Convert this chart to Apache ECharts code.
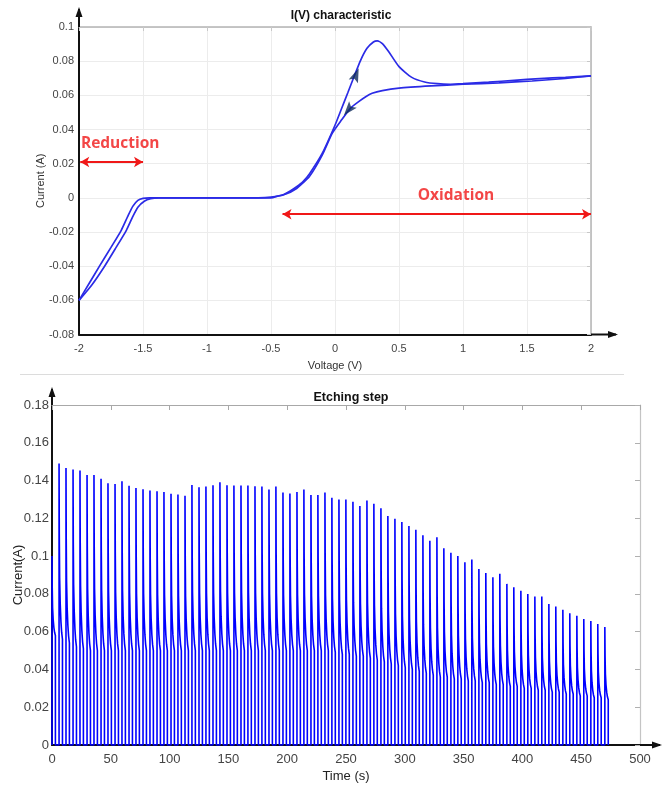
<!DOCTYPE html>
<html>
<head>
<meta charset="utf-8">
<script src="https://cdn.jsdelivr.net/npm/echarts@6/dist/echarts.min.js"></script>
<style>html,body{margin:0;padding:0;background:#fff}#c{width:664px;height:787px}</style>
</head>
<body>
<div id="c"></div>
<script>
// ---------- I(V) characteristic (cyclic voltammogram) ----------
const ivTicksX = [-2, -1.5, -1, -0.5, 0, 0.5, 1, 1.5, 2];
const ivTicksY = [-0.08, -0.06, -0.04, -0.02, 0, 0.02, 0.04, 0.06, 0.08, 0.1];
// reverse scan (2 V -> -2 V)
const revV = [2, 1.8, 1.54, 1.28, 1.0, 0.75, 0.5, 0.37, 0.29, 0.24, 0.185, 0.12, 0.05, -0.02, -0.1, -0.2, -0.3, -0.4, -0.5, -0.6, -1.0, -1.4, -1.45, -1.5, -1.54, -1.58, -1.62, -1.67, -1.75, -1.84, -1.92, -2];
const revI = [0.0714, 0.0699, 0.0684, 0.0673, 0.0665, 0.0655, 0.0642, 0.0628, 0.0612, 0.0592, 0.0563, 0.0524, 0.0455, 0.038, 0.025, 0.0125, 0.0055, 0.0018, 0.0004, 0, 0, 0, 0, -0.0003, -0.0015, -0.005, -0.011, -0.019, -0.029, -0.04, -0.05, -0.06];
// forward scan (-2 V -> 2 V)
const fwdV = [-2, -1.9, -1.8, -1.71, -1.63, -1.58, -1.54, -1.49, -1.44, -1.38, -1.0, -0.5, -0.45, -0.4, -0.35, -0.3, -0.25, -0.2, -0.1, 0, 0.05, 0.1, 0.15, 0.2, 0.25, 0.3, 0.33, 0.37, 0.42, 0.5, 0.6, 0.7, 0.8, 0.9, 1.0, 1.2, 1.4, 1.6, 1.8, 2];
const fwdI = [-0.06, -0.051, -0.04, -0.029, -0.019, -0.011, -0.0055, -0.002, -0.0005, 0, 0, 0, 0.001, 0.002, 0.004, 0.0065, 0.0095, 0.014, 0.026, 0.0425, 0.052, 0.0615, 0.0712, 0.0805, 0.0875, 0.0912, 0.0919, 0.0903, 0.0855, 0.0768, 0.0705, 0.0678, 0.0668, 0.0665, 0.0668, 0.0677, 0.0688, 0.0698, 0.0706, 0.0714];
// scan direction markers (forward: up-right, reverse: down-left)
const dirMarkV = [0.146, 0.12];
const dirMarkI = [0.0714, 0.0524];
// annotations
const annText = ['Reduction', 'Oxidation'];
const annV = [-1.985, 0.945];
const annI = [0.032, 0.0016];
const annAlign = ['left', 'center'];
const redArrowFromV = [-1.99, -0.41];
const redArrowToV = [-1.5, 2.0];
const redArrowI = [0.021, -0.0096];

// ---------- Etching step (pulsed current) ----------
const etchTicksX = [0, 50, 100, 150, 200, 250, 300, 350, 400, 450, 500];
const etchTicksY = [0, 0.02, 0.04, 0.06, 0.08, 0.1, 0.12, 0.14, 0.16, 0.18];
const pulseOnset = [0, 6.0, 11.9, 17.9, 23.8, 29.8, 35.7, 41.7, 47.6, 53.6, 59.5, 65.5, 71.4, 77.4, 83.3, 89.3, 95.2, 101.2, 107.1, 113.1, 119.0, 125.0, 130.9, 136.9, 142.8, 148.8, 154.7, 160.7, 166.6, 172.6, 178.5, 184.5, 190.4, 196.4, 202.3, 208.3, 214.2, 220.2, 226.1, 232.1, 238.0, 244.0, 249.9, 255.9, 261.8, 267.8, 273.7, 279.7, 285.6, 291.6, 297.5, 303.5, 309.4, 315.4, 321.3, 327.3, 333.2, 339.2, 345.1, 351.1, 357.0, 363.0, 368.9, 374.9, 380.8, 386.8, 392.7, 398.7, 404.6, 410.6, 416.5, 422.5, 428.4, 434.4, 440.3, 446.3, 452.2, 458.2, 464.1, 470.1];
const pulsePeak = [0.100, 0.149, 0.1467, 0.1458, 0.1453, 0.143, 0.143, 0.141, 0.1386, 0.1382, 0.1396, 0.1372, 0.136, 0.1354, 0.1347, 0.1344, 0.1339, 0.133, 0.1326, 0.1319, 0.1377, 0.1365, 0.1368, 0.1375, 0.1391, 0.1375, 0.1374, 0.1374, 0.1374, 0.137, 0.1368, 0.1353, 0.1368, 0.1337, 0.1332, 0.134, 0.1353, 0.1323, 0.1323, 0.1337, 0.1309, 0.13, 0.13, 0.1288, 0.1265, 0.1295, 0.1277, 0.1253, 0.1212, 0.1198, 0.1181, 0.116, 0.1139, 0.1111, 0.1081, 0.11, 0.1042, 0.1018, 0.1, 0.0967, 0.0982, 0.0932, 0.0911, 0.0888, 0.0907, 0.0853, 0.0835, 0.0816, 0.08, 0.0786, 0.0786, 0.0746, 0.0733, 0.0716, 0.0698, 0.0684, 0.0667, 0.0656, 0.064, 0.0625];
const pulseEnd = [0.058, 0.056, 0.054, 0.052, 0.051, 0.05, 0.05, 0.05, 0.05, 0.05, 0.05, 0.05, 0.05, 0.05, 0.05, 0.05, 0.05, 0.05, 0.05, 0.05, 0.05, 0.05, 0.05, 0.05, 0.05, 0.05, 0.05, 0.05, 0.05, 0.05, 0.05, 0.05, 0.05, 0.05, 0.05, 0.05, 0.05, 0.05, 0.05, 0.05, 0.049, 0.048, 0.048, 0.047, 0.047, 0.046, 0.045, 0.044, 0.043, 0.042, 0.041, 0.04, 0.039, 0.038, 0.037, 0.036, 0.036, 0.035, 0.035, 0.034, 0.034, 0.033, 0.033, 0.032, 0.032, 0.031, 0.031, 0.03, 0.03, 0.029, 0.029, 0.028, 0.028, 0.027, 0.027, 0.026, 0.026, 0.025, 0.025, 0.024];
// shape of one pulse's decay, read off a typical pulse: time after onset (s) and fraction of (peak - end)
const decayDt = [0, 0.2, 0.5, 1.0, 1.6, 2.2, 2.9];
const decayFrac = [1, 0.6, 0.35, 0.2, 0.1, 0.04, 0];

// ---------- build series data ----------
const revData = revV.map((v, i) => [v, revI[i]]);
const fwdData = fwdV.map((v, i) => [v, fwdI[i]]);
const etchData = [];
pulseOnset.forEach((t0, k) => {
  const pk = pulsePeak[k], en = pulseEnd[k];
  etchData.push([t0, 0]);
  decayDt.forEach((dt, i) => etchData.push([t0 + dt, en + decayFrac[i] * (pk - en)]));
  etchData.push([t0 + decayDt[decayDt.length - 1], 0]);
});

const FONT = '"Liberation Sans", Arial, sans-serif';
const CVBLUE = '#2b2be6';
const RED = '#f01818';
// dart shapes (style): pointing up-right and pointing down-left
const DART_UR = {symbol: 'path://M2.68,-6.47 L1.94,8.38 L-1.53,3.70 L-7.3,4.55 Z', symbolSize: [10, 15]};
const DART_DL = {symbol: 'path://M-4.5,5.36 L8.33,-2.15 L2.57,-3.06 L0.67,-8.58 Z', symbolSize: [12.8, 13.9]};
const dartStyles = [DART_UR, DART_DL];

const chart = echarts.init(document.getElementById('c'), null, {renderer: 'canvas'});

const fmtNum = v => String(Math.round(v * 1000) / 1000);

const option = {
  animation: false,
  backgroundColor: '#ffffff',
  title: [
    {text: 'I(V) characteristic', left: 336, top: 5, textAlign: 'center',
     textStyle: {fontFamily: FONT, fontSize: 12, fontWeight: 'bold', color: '#111'}},
    {text: 'Etching step', left: 346, top: 386, textAlign: 'center',
     textStyle: {fontFamily: FONT, fontSize: 12.5, fontWeight: 'bold', color: '#111'}}
  ],
  grid: [
    {left: 79, top: 27, width: 512, height: 307.5, containLabel: false, outerBoundsMode: 'none'},
    {left: 52, top: 405, width: 588, height: 340, containLabel: false, outerBoundsMode: 'none'}
  ],
  xAxis: [
    {gridIndex: 0, type: 'value', min: -2, max: 2, interval: 0.5, position: 'bottom',
     name: 'Voltage (V)', nameLocation: 'middle', nameGap: 26, nameMoveOverlap: false,
     nameTextStyle: {fontFamily: FONT, fontSize: 11, color: '#333'},
     axisLine: {onZero: false, lineStyle: {color: '#111', width: 2}},
     axisTick: {show: false},
     axisLabel: {fontFamily: FONT, fontSize: 11, color: '#444', margin: 9, formatter: fmtNum},
     splitLine: {show: true, lineStyle: {color: '#ececec', width: 1}}},
    {gridIndex: 0, type: 'value', min: -2, max: 2, interval: 0.5, position: 'top',
     axisLine: {onZero: false, lineStyle: {color: '#b4b4b4', width: 1.5}},
     axisTick: {show: true, inside: true, length: 4, lineStyle: {color: '#c8c8c8'}},
     axisLabel: {show: false}, splitLine: {show: false}},
    {gridIndex: 1, type: 'value', min: 0, max: 500, interval: 50, position: 'bottom',
     name: 'Time (s)', nameLocation: 'middle', nameGap: 25, nameMoveOverlap: false,
     nameTextStyle: {fontFamily: FONT, fontSize: 13, color: '#222'},
     axisLine: {onZero: false, lineStyle: {color: '#111', width: 2}},
     axisTick: {show: false},
     axisLabel: {fontFamily: FONT, fontSize: 13, color: '#444', margin: 8},
     splitLine: {show: false}},
    {gridIndex: 1, type: 'value', min: 0, max: 500, interval: 50, position: 'top',
     axisLine: {onZero: false, lineStyle: {color: '#a8a8a8', width: 1.2}},
     axisTick: {show: true, inside: true, length: 5, lineStyle: {color: '#a8a8a8'}},
     axisLabel: {show: false}, splitLine: {show: false}}
  ],
  yAxis: [
    {gridIndex: 0, type: 'value', min: -0.08, max: 0.1, interval: 0.02, position: 'left',
     name: 'Current (A)', nameLocation: 'middle', nameGap: 33, nameMoveOverlap: false,
     nameTextStyle: {fontFamily: FONT, fontSize: 11, color: '#333'},
     axisLine: {onZero: false, lineStyle: {color: '#111', width: 2}},
     axisTick: {show: false},
     axisLabel: {fontFamily: FONT, fontSize: 11, color: '#444', margin: 5, formatter: fmtNum},
     splitLine: {show: true, lineStyle: {color: '#ececec', width: 1}}},
    {gridIndex: 0, type: 'value', min: -0.08, max: 0.1, interval: 0.02, position: 'right',
     axisLine: {onZero: false, lineStyle: {color: '#b4b4b4', width: 1.5}},
     axisTick: {show: true, inside: true, length: 4, lineStyle: {color: '#c8c8c8'}},
     axisLabel: {show: false}, splitLine: {show: false}},
    {gridIndex: 1, type: 'value', min: 0, max: 0.18, interval: 0.02, position: 'left',
     name: 'Current(A)', nameLocation: 'middle', nameGap: 27, nameMoveOverlap: false,
     nameTextStyle: {fontFamily: FONT, fontSize: 13, color: '#222'},
     axisLine: {onZero: false, lineStyle: {color: '#111', width: 2}},
     axisTick: {show: false},
     axisLabel: {fontFamily: FONT, fontSize: 13, color: '#444', margin: 3, formatter: fmtNum},
     splitLine: {show: false}},
    {gridIndex: 1, type: 'value', min: 0, max: 0.18, interval: 0.02, position: 'right',
     axisLine: {onZero: false, lineStyle: {color: '#c4c4c4', width: 1.2}},
     axisTick: {show: true, inside: true, length: 5, lineStyle: {color: '#b0b0b0'}},
     axisLabel: {show: false}, splitLine: {show: false}}
  ],
  series: [
    {name: 'reverse scan', type: 'line', xAxisIndex: 0, yAxisIndex: 0, data: revData,
     showSymbol: false, smooth: 0.2,
     lineStyle: {color: CVBLUE, width: 1.7}, z: 3},
    {name: 'forward scan', type: 'line', xAxisIndex: 0, yAxisIndex: 0, data: fwdData,
     showSymbol: false, smooth: 0.2,
     lineStyle: {color: CVBLUE, width: 1.7}, z: 3},
    {name: 'scan direction', type: 'scatter', xAxisIndex: 0, yAxisIndex: 0,
     data: dirMarkV.map((v, i) => Object.assign({value: [v, dirMarkI[i]]}, dartStyles[i])),
     itemStyle: {color: '#0e2a5c'}, z: 5},
    {name: 'annotations', type: 'scatter', xAxisIndex: 0, yAxisIndex: 0,
     data: annText.map((t, i) => ({value: [annV[i], annI[i]], name: t,
       label: {show: true, position: annAlign[i] === 'left' ? 'right' : 'inside', distance: 0,
               formatter: t, fontFamily: '"Open Sans", "Noto Sans", sans-serif', fontSize: 15.5,
               fontWeight: 'bold', color: RED}})),
     symbolSize: 0, itemStyle: {color: 'transparent'}, z: 6,
     markLine: {silent: true, symbol: ['arrow', 'arrow'], symbolSize: [8, 9],
       lineStyle: {color: RED, width: 2.2, type: 'solid'}, label: {show: false},
       data: redArrowFromV.map((v, i) => [{coord: [v, redArrowI[i]]}, {coord: [redArrowToV[i], redArrowI[i]]}])}},
    {name: 'etching current', type: 'line', xAxisIndex: 2, yAxisIndex: 2, data: etchData,
     showSymbol: false, sampling: null, lineStyle: {color: '#0000ff', width: 1.6}, z: 3}
  ],
  graphic: []
};
chart.setOption(option);

// axis-line extensions with arrowheads (decoration), placed from the axes' own scales
function axisArrows() {
  const g = [];
  const add = (x1, y1, x2, y2) => {
    g.push({type: 'line', shape: {x1, y1, x2, y2}, style: {stroke: '#111', lineWidth: 2}, z: 10});
    const dx = x2 - x1, dy = y2 - y1, L = Math.hypot(dx, dy), ux = dx / L, uy = dy / L;
    const bx = x2 - ux * 8, by = y2 - uy * 8;
    g.push({type: 'polygon', shape: {points: [[x2 + ux * 2, y2 + uy * 2], [bx - uy * 3.5, by + ux * 3.5], [bx + uy * 3.5, by - ux * 3.5]]},
            style: {fill: '#111'}, z: 10});
  };
  const a = chart.convertToPixel({gridIndex: 0}, [2, -0.08]);
  const b = chart.convertToPixel({gridIndex: 0}, [-2, 0.1]);
  add(a[0], a[1], a[0] + 25, a[1]);
  add(b[0], b[1], b[0], b[1] - 18);
  const c = chart.convertToPixel({gridIndex: 1}, [500, 0]);
  const d = chart.convertToPixel({gridIndex: 1}, [0, 0.18]);
  add(c[0], c[1], c[0] + 20, c[1]);
  add(d[0], d[1], d[0], d[1] - 16);
  // separator line between the two panels
  g.push({type: 'line', shape: {x1: 20, y1: 374.5, x2: 624, y2: 374.5}, style: {stroke: '#dcdcdc', lineWidth: 1}, z: 1});
  chart.setOption({graphic: g});
}
axisArrows();
</script>
</body>
</html>
